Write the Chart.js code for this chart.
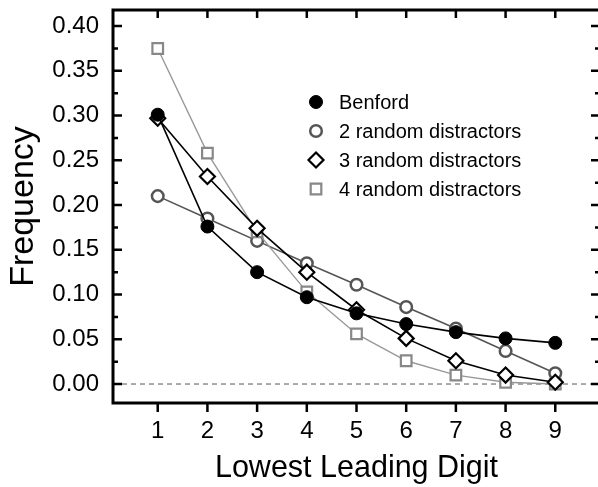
<!DOCTYPE html>
<html>
<head>
<meta charset="utf-8">
<script src="https://cdn.jsdelivr.net/npm/chart.js@4.4.1/dist/chart.umd.min.js"></script>
<style>
  html, body { margin: 0; padding: 0; background: #fff; overflow: hidden; }
  #wrap { width: 598px; height: 487px; overflow: hidden; position: relative; }
  #grafico { position: absolute; left: 0; top: 0; }
</style>
</head>
<body>
<div id="wrap"><canvas id="grafico" width="604" height="487"></canvas></div>
<script>
// valores
const digitos = [1, 2, 3, 4, 5, 6, 7, 8, 9];
const benford = [0.301, 0.176, 0.125, 0.097, 0.079, 0.067, 0.058, 0.051, 0.046];
const dist2 = [0.210, 0.185, 0.160, 0.135, 0.111, 0.086, 0.062, 0.037, 0.012];
const dist3 = [0.297, 0.232, 0.174, 0.125, 0.083, 0.051, 0.026, 0.010, 0.002];
const dist4 = [0.375, 0.258, 0.170, 0.103, 0.056, 0.026, 0.010, 0.002, 0.000];
const nomes = ['Benford', '2 random distractors', '3 random distractors', '4 random distractors'];
const yTicks = [0, 0.05, 0.10, 0.15, 0.20, 0.25, 0.30, 0.35, 0.40];
const yMinor = [0.025, 0.075, 0.125, 0.175, 0.225, 0.275, 0.325, 0.375];

const FONTE = "'Liberation Sans', Arial, sans-serif";
const pontos = serie => digitos.map((d, i) => ({ x: d, y: serie[i] }));

// desenha o marcador da legenda igual ao do dataset
function marcador(ctx, ds, x, y) {
    ctx.save();
    ctx.lineWidth = ds.pointBorderWidth;
    ctx.strokeStyle = ds.pointBorderColor;
    ctx.fillStyle = ds.pointBackgroundColor;
    const r = ds.pointRadius;
    ctx.beginPath();
    if (ds.pointStyle === 'circle') {
        ctx.arc(x, y, r, 0, Math.PI * 2);
    } else if (ds.pointStyle === 'rectRot') {
        ctx.moveTo(x, y - r); ctx.lineTo(x + r, y); ctx.lineTo(x, y + r); ctx.lineTo(x - r, y); ctx.closePath();
    } else {
        const s = r * Math.SQRT1_2;
        ctx.rect(x - s, y - s, 2 * s, 2 * s);
    }
    ctx.fill();
    ctx.stroke();
    ctx.restore();
}

const moldura = {
    id: 'moldura',
    beforeDatasetsDraw(chart) {
        const { ctx, chartArea: a, scales: { y } } = chart;
        // linha tracejada no zero
        ctx.save();
        ctx.strokeStyle = '#555';
        ctx.lineWidth = 1;
        ctx.setLineDash([5, 4]);
        ctx.beginPath();
        ctx.moveTo(a.left, y.getPixelForValue(0));
        ctx.lineTo(a.right, y.getPixelForValue(0));
        ctx.stroke();
        ctx.restore();
    },
    afterDatasetsDraw(chart) {
        const { ctx, chartArea: a, scales: { x, y } } = chart;
        ctx.save();
        ctx.strokeStyle = '#000';
        ctx.lineWidth = 2.5;
        ctx.beginPath();
        yTicks.forEach(v => {
            const p = y.getPixelForValue(v);
            ctx.moveTo(a.left, p); ctx.lineTo(a.left + 9, p);
            ctx.moveTo(a.right, p); ctx.lineTo(a.right - 9, p);
        });
        yMinor.forEach(v => {
            const p = y.getPixelForValue(v);
            ctx.moveTo(a.left, p); ctx.lineTo(a.left + 5, p);
            ctx.moveTo(a.right, p); ctx.lineTo(a.right - 5, p);
        });
        digitos.forEach(d => {
            const p = x.getPixelForValue(d);
            ctx.moveTo(p, a.top); ctx.lineTo(p, a.top + 8);
            ctx.moveTo(p, a.bottom); ctx.lineTo(p, a.bottom + 9);
        });
        ctx.stroke();
        ctx.lineWidth = 3;
        ctx.strokeRect(a.left, a.top, a.right - a.left, a.bottom - a.top);

        // legenda
        chart.data.datasets.forEach((ds, i) => {
            const ly = 102 + i * 29;
            marcador(ctx, ds, 316, ly);
            ctx.fillStyle = '#000';
            ctx.font = '20px ' + FONTE;
            ctx.textBaseline = 'middle';
            ctx.textAlign = 'left';
            ctx.fillText(ds.label, 339, ly + 1);
        });
        ctx.restore();
    }
};

new Chart(document.getElementById('grafico'), {
    type: 'line',
    data: {
        datasets: [{
            label: nomes[0],
            data: pontos(benford),
            borderColor: '#000', borderWidth: 1.6,
            pointStyle: 'circle', pointRadius: 6.5,
            pointBackgroundColor: '#000', pointBorderColor: '#000', pointBorderWidth: 1,
            order: 0
        }, {
            label: nomes[1],
            data: pontos(dist2),
            borderColor: '#555', borderWidth: 1.6,
            pointStyle: 'circle', pointRadius: 5.8,
            pointBackgroundColor: '#fff', pointBorderColor: '#555', pointBorderWidth: 2.5,
            order: 3
        }, {
            label: nomes[2],
            data: pontos(dist3),
            borderColor: '#000', borderWidth: 1.6,
            pointStyle: 'rectRot', pointRadius: 7.5,
            pointBackgroundColor: '#fff', pointBorderColor: '#000', pointBorderWidth: 2.2,
            order: 1
        }, {
            label: nomes[3],
            data: pontos(dist4),
            borderColor: '#999', borderWidth: 1.4,
            pointStyle: 'rect', pointRadius: 7.5,
            pointBackgroundColor: '#fff', pointBorderColor: '#888', pointBorderWidth: 2.2,
            order: 2
        }]
    },
    options: {
        responsive: false,
        animation: false,
        layout: { autoPadding: false, padding: { top: 10, right: 4, left: 0, bottom: 0 } },
        plugins: { legend: { display: false }, tooltip: { enabled: false } },
        scales: {
            x: {
                type: 'linear', min: 0.1, max: 9.9,
                grid: { display: false }, border: { display: false },
                afterBuildTicks: s => { s.ticks = digitos.map(v => ({ value: v })); },
                afterFit: s => { s.height = 84; s.paddingLeft = 0; s.paddingRight = 0; },
                ticks: { color: '#000', padding: 6, font: { family: FONTE, size: 24 } },
                title: { display: true, text: 'Lowest Leading Digit', color: '#000', padding: { top: 0, bottom: 0 }, font: { family: FONTE, size: 30.5 } }
            },
            y: {
                min: -0.0212, max: 0.418,
                grid: { display: false }, border: { display: false },
                afterBuildTicks: s => { s.ticks = yTicks.map(v => ({ value: v })); },
                afterFit: s => { s.width = 113; s.paddingTop = 0; s.paddingBottom = 0; },
                ticks: { color: '#000', padding: 6, font: { family: FONTE, size: 24 }, callback: v => v.toFixed(2) },
                title: { display: true, text: 'Frequency', color: '#000', padding: { top: 3, bottom: 0 }, font: { family: FONTE, size: 34 } }
            }
        }
    },
    plugins: [moldura]
});
</script>
</body>
</html>
